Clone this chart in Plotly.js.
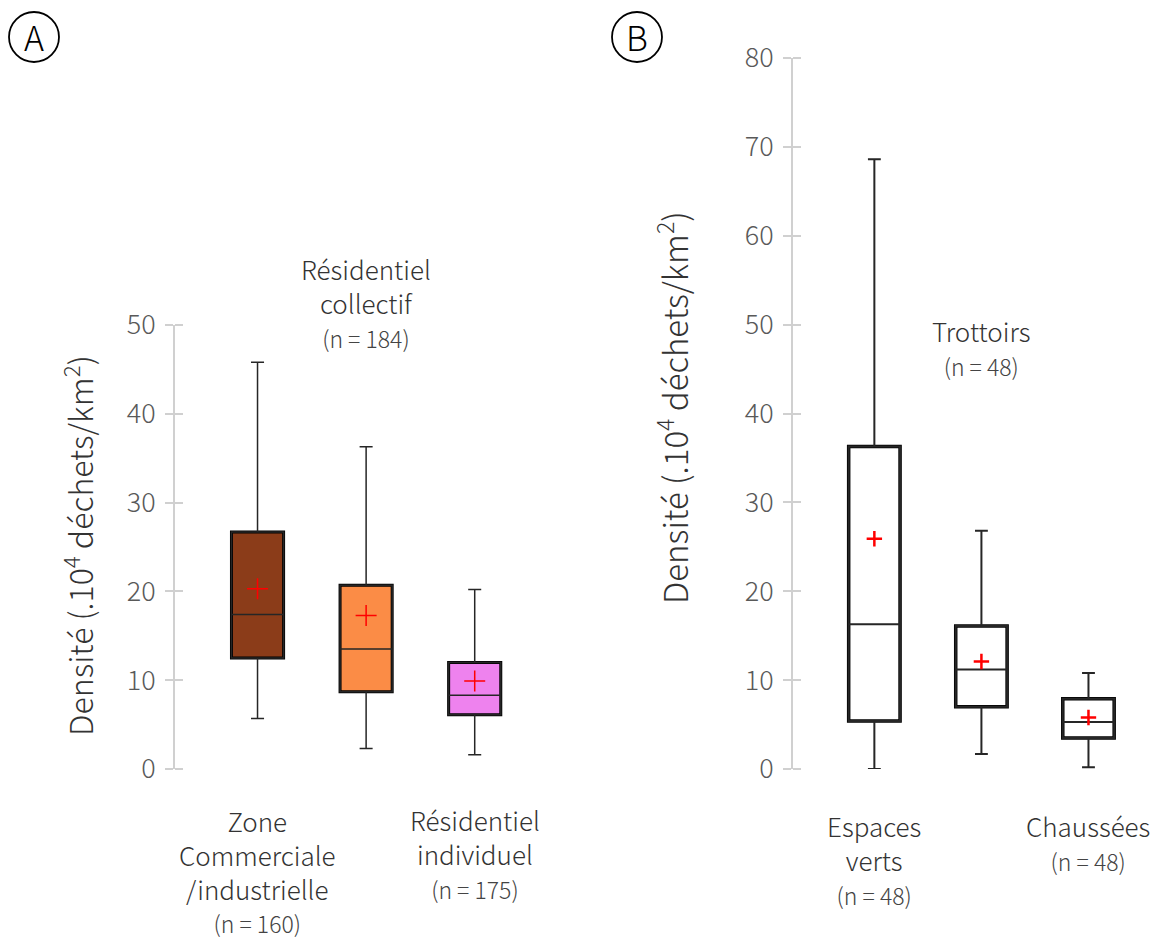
<!DOCTYPE html>
<html>
<head>
<meta charset="utf-8">
<script src="https://cdn.plot.ly/plotly-3.0.1.min.js"></script>
<style>html,body{margin:0;padding:0;background:#fff;}#chart{width:1166px;height:941px;}</style>
</head>
<body>
<div id="chart"></div>
<script>
// ---- Panel A data ----
const catsA = ['Zone Commerciale /industrielle', 'Résidentiel collectif', 'Résidentiel individuel'];
const labelsA = ['Zone<br>Commerciale<br>/industrielle', 'Résidentiel<br>collectif', 'Résidentiel<br>individuel'];
const nA = [160, 184, 175];
const lowA = [5.7, 2.3, 1.6];
const q1A = [12.5, 8.7, 6.1];
const medA = [17.4, 13.5, 8.3];
const q3A = [26.7, 20.7, 12.0];
const highA = [45.8, 36.3, 20.2];
const meanA = [20.3, 17.3, 9.9];
const colorsA = ['#8B3C19', '#FB8C46', '#EE82EE'];

// ---- Panel B data ----
const catsB = ['Espaces verts', 'Trottoirs', 'Chaussées'];
const labelsB = ['Espaces<br>verts', 'Trottoirs', 'Chaussées'];
const nB = [48, 48, 48];
const lowB = [0.0, 1.7, 0.2];
const q1B = [5.4, 7.0, 3.5];
const medB = [16.3, 11.2, 5.3];
const q3B = [36.3, 16.1, 7.9];
const highB = [68.6, 26.8, 10.8];
const meanB = [25.9, 12.1, 5.8];
const colorsB = ['#ffffff', '#ffffff', '#ffffff'];

const W = 1166, H = 941;
const px = x => x / W;
const py = y => 1 - y / H;
const FONT = '"Noto Sans CJK SC", "Noto Sans", sans-serif';

const traces = [];
function panel(cats, low, q1, med, q3, high, mean, colors, xa, ya, yInnerAxis, outlineW, lineW, crossSize, crossW) {
  traces.push({
    type: 'bar', x: cats, base: q1, y: q3.map((v, i) => v - q1[i]),
    width: cats.map(() => 0.48),
    marker: {color: colors, line: {color: '#000', width: outlineW}},
    xaxis: xa, yaxis: ya, hoverinfo: 'skip', showlegend: false
  });
  cats.forEach((c, i) => {
    traces.push({
      type: 'box', x: [c], q1: [q1[i]], median: [med[i]], q3: [q3[i]],
      lowerfence: [low[i]], upperfence: [high[i]],
      width: 0.48, whiskerwidth: 0.25,
      fillcolor: 'rgba(0,0,0,0)', line: {color: '#262626', width: lineW},
      xaxis: xa, yaxis: ya, showlegend: false, hoverinfo: 'skip'
    });
  });
  traces.push({
    type: 'scatter', mode: 'markers', x: cats, y: mean,
    marker: {symbol: 'cross-thin', size: crossSize, color: 'red', line: {color: 'red', width: crossW}},
    xaxis: xa, yaxis: ya, showlegend: false, hoverinfo: 'skip'
  });
  // invisible trace so the tick-overlay axis is drawn
  traces.push({
    type: 'scatter', mode: 'markers', x: [cats[0]], y: [low[0]],
    marker: {opacity: 0, size: 1}, xaxis: xa, yaxis: yInnerAxis, showlegend: false, hoverinfo: 'skip'
  });
}
panel(catsA, lowA, q1A, medA, q3A, highA, meanA, colorsA, 'x', 'y', 'y3', 3, 1.5, 15, 1.5);
panel(catsB, lowB, q1B, medB, q3B, highB, meanB, colorsB, 'x2', 'y2', 'y4', 3.5, 2, 11, 2.5);

const yBase = {
  showline: true, linecolor: '#d0d0d0', linewidth: 2,
  ticks: 'outside', ticklen: 8, tickwidth: 2, tickcolor: '#d0d0d0',
  showgrid: false, zeroline: false, tickmode: 'linear', tick0: 0, dtick: 10,
  tickfont: {family: FONT, size: 27, color: '#595959', weight: 300},
  ticklabelstandoff: 4, fixedrange: true
};
// second axis, placed 8px right of the main axis line, with outside ticks reaching back to it
const yInner = {
  showline: false, ticks: 'outside', ticklen: 8, tickwidth: 2, tickcolor: '#d0d0d0',
  showgrid: false, zeroline: false, tickmode: 'linear', tick0: 0, dtick: 10,
  showticklabels: false, fixedrange: true, anchor: 'free', side: 'left'
};
const xBase = {
  type: 'category', range: [-0.76, 2.5], showline: false, showgrid: false,
  zeroline: false, showticklabels: false, ticks: '', fixedrange: true
};

const domY = [py(769), py(325)];
const domY2 = [py(769), py(58)];

const ann = [];
const bigF = {family: FONT, size: 26, color: '#333333', weight: 300};
function nSpan(n) { return '<span style="font-size:23px;color:#444">(n = ' + n + ')</span>'; }
const topA = [800, 248, 799];
labelsA.forEach((l, i) => {
  ann.push({
    xref: 'x', yref: 'paper', x: catsA[i], y: py(topA[i]),
    xanchor: 'center', yanchor: 'top', showarrow: false, align: 'center',
    text: l + '<br>' + nSpan(nA[i]), font: bigF
  });
});
const topB = [805, 310, 805];
labelsB.forEach((l, i) => {
  ann.push({
    xref: 'x2', yref: 'paper', x: catsB[i], y: py(topB[i]),
    xanchor: 'center', yanchor: 'top', showarrow: false, align: 'center',
    text: l + '<br>' + nSpan(nB[i]), font: bigF
  });
});
const yTitle = 'Densité (.10<sup>4</sup> déchets/km<sup>2</sup>)';
ann.push({xref: 'paper', yref: 'paper', x: px(78), y: py(546), textangle: -90,
  xanchor: 'center', yanchor: 'middle', showarrow: false, text: yTitle,
  font: {family: FONT, size: 32, color: '#333333', weight: 300}});
ann.push({xref: 'paper', yref: 'paper', x: px(672), y: py(408), textangle: -90,
  xanchor: 'center', yanchor: 'middle', showarrow: false, text: yTitle,
  font: {family: FONT, size: 33, color: '#333333', weight: 300}});
ann.push({xref: 'paper', yref: 'paper', x: px(34), y: py(37), xanchor: 'center', yanchor: 'middle',
  showarrow: false, text: 'A', font: {family: FONT, size: 34, color: '#000', weight: 300}});
ann.push({xref: 'paper', yref: 'paper', x: px(637), y: py(37), xanchor: 'center', yanchor: 'middle',
  showarrow: false, text: 'B', font: {family: FONT, size: 34, color: '#000', weight: 300}});

const shapes = [
  {type: 'circle', xref: 'paper', yref: 'paper', x0: px(9), x1: px(59), y0: py(12), y1: py(62),
   line: {color: '#000', width: 1.8}},
  {type: 'circle', xref: 'paper', yref: 'paper', x0: px(612), x1: px(662), y0: py(12), y1: py(62),
   line: {color: '#000', width: 1.8}}
];

const layout = {
  width: W, height: H, margin: {l: 0, r: 0, t: 0, b: 0},
  paper_bgcolor: '#fff', plot_bgcolor: 'rgba(0,0,0,0)',
  showlegend: false, boxmode: 'overlay', bargap: 0,
  font: {family: FONT},
  xaxis: Object.assign({}, xBase, {domain: [px(175), px(529)], anchor: 'y'}),
  yaxis: Object.assign({}, yBase, {domain: domY, range: [0, 50], anchor: 'x'}),
  xaxis2: Object.assign({}, xBase, {domain: [px(793), px(1142)], anchor: 'y2'}),
  yaxis2: Object.assign({}, yBase, {domain: domY2, range: [0, 80], anchor: 'x2'}),
  yaxis3: Object.assign({}, yInner, {range: [0, 50], overlaying: 'y', position: px(183)}),
  yaxis4: Object.assign({}, yInner, {range: [0, 80], overlaying: 'y2', position: px(801)}),
  annotations: ann, shapes: shapes
};

Plotly.newPlot('chart', traces, layout, {staticPlot: true});
</script>
</body>
</html>
